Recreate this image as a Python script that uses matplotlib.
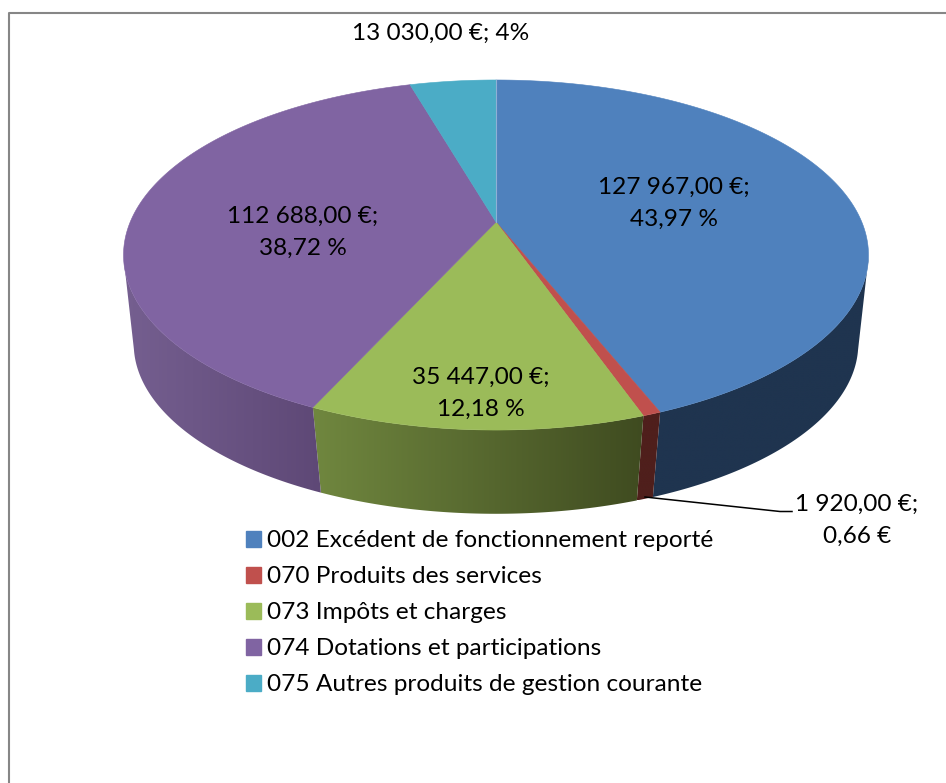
# coding=UTF-8
# camembert 3D : recettes de fonctionnement
import matplotlib
matplotlib.use('Agg')
import matplotlib.pyplot as plt
import numpy as np
from matplotlib.colors import to_rgb
from matplotlib.patches import Patch, Polygon

plt.rcParams['font.family'] = ['Lato', 'DejaVu Sans']

categories = ['002 Excédent de fonctionnement reporté', '070 Produits des services',
              '073 Impôts et charges', '074 Dotations et participations',
              '075 Autres produits de gestion courante']
values = [127967, 1920, 35447, 112688, 13030]
value_labels = ['127 967,00 €;\n43,97 %', '1 920,00 €;\n0,66 €', '35 447,00 €;\n12,18 %',
                '112 688,00 €;\n38,72 %', '13 030,00 €; 4%']

colors = ['#4F81BD', '#C0504D', '#9BBB59', '#8064A2', '#4BACC6']
# couleur du flanc : (gauche, droite)
wall_colors = [('#1F344F', '#1F344F'), ('#4F1F1C', '#4F1F1C'), ('#70873F', '#3F4B20'),
               ('#755F90', '#5E4876'), ('#2B6070', '#2B6070')]
label_pos = [(674, 203.5), (857, 520), (481, 393.5), (303, 232.5), (441, 33)]
FS = 17.6

CX = 496.0
TOP = dict(y0=222.0, a=365.8, b=168.8, k=0.1886)
BASE = dict(y0=315.0, a=357.0, b=165.0, k=0.17)


def project(theta, p):
    # theta en radians, sens horaire depuis le haut, projection en perspective
    x, y = np.sin(theta), np.cos(theta)
    d = 1 + p['k'] * y
    return CX + p['a'] * x / d, p['y0'] - p['b'] * y / d


fig = plt.figure(figsize=(9.46, 7.83), dpi=100)
ax = fig.add_axes([0, 0, 1, 1])
ax.set_xlim(0, 946)
ax.set_ylim(783, 0)
ax.axis('off')

# cadre : seuls le haut et la gauche sont visibles
ax.plot([8.5, 8.5, 946], [783, 12.5, 12.5], color='#868686', lw=1.5, zorder=1)

fractions = np.array(values) / sum(values)
edges = np.concatenate([[0], np.cumsum(fractions)]) * 2 * np.pi

# flancs : degrade horizontal decoupe par le contour du flanc
for i in range(len(values)):
    th = np.linspace(edges[i], edges[i + 1], 200)
    # on s'arrete a la tangente, sinon les deux arcs se croisent
    th = th[np.cos(th) < -0.2]
    if len(th) < 2:
        continue
    tx, ty = project(th, TOP)
    bx, by = project(th, BASE)
    outline = np.column_stack([np.r_[tx, bx[::-1]], np.r_[ty, by[::-1]]])
    xmin, xmax = outline[:, 0].min(), outline[:, 0].max()
    c0, c1 = np.array(to_rgb(wall_colors[i][0])), np.array(to_rgb(wall_colors[i][1]))
    ramp = np.linspace(0, 1, 256)[None, :, None]
    img = ax.imshow(c0 + (c1 - c0) * ramp, extent=(xmin, xmax, outline[:, 1].max(), outline[:, 1].min()),
                    aspect='auto', interpolation='bilinear', zorder=2)
    patch = Polygon(outline, closed=True, transform=ax.transData)
    img.set_clip_path(patch)

ax.set_xlim(0, 946)
ax.set_ylim(783, 0)

# dessus
for i in range(len(values)):
    th = np.linspace(edges[i], edges[i + 1], 200)
    tx, ty = project(th, TOP)
    pts = np.column_stack([np.r_[CX, tx], np.r_[TOP['y0'], ty]])
    ax.add_patch(Polygon(pts, closed=True, fc=colors[i], ec=colors[i], lw=0.4, zorder=3))

# lisere entre le dernier secteur et le premier
x0, y0 = project(np.array([0.0]), TOP)
ax.plot([CX, x0[0]], [TOP['y0'], y0[0]], color='#8FB0D6', lw=0.8, zorder=4)

# trait de rappel vers l'etiquette 070
ax.plot([645, 780, 792], [497, 511.5, 511.5], color='black', lw=1.1, zorder=4)

for txt, (x, y) in zip(value_labels, label_pos):
    ax.text(x, y, txt, ha='center', va='center', fontsize=FS, color='black',
            linespacing=1.64, zorder=5)

handles = [Patch(fc=c, ec=c) for c in colors]
ax.legend(handles, categories, loc='upper left', bbox_to_anchor=(238.7, 523),
          bbox_transform=ax.transData, frameon=False, fontsize=FS, handlelength=0.61,
          handleheight=0.61, handletextpad=0.25, labelspacing=0.615, borderpad=0.3,
          borderaxespad=0)

fig.savefig('out.png', dpi=100)
